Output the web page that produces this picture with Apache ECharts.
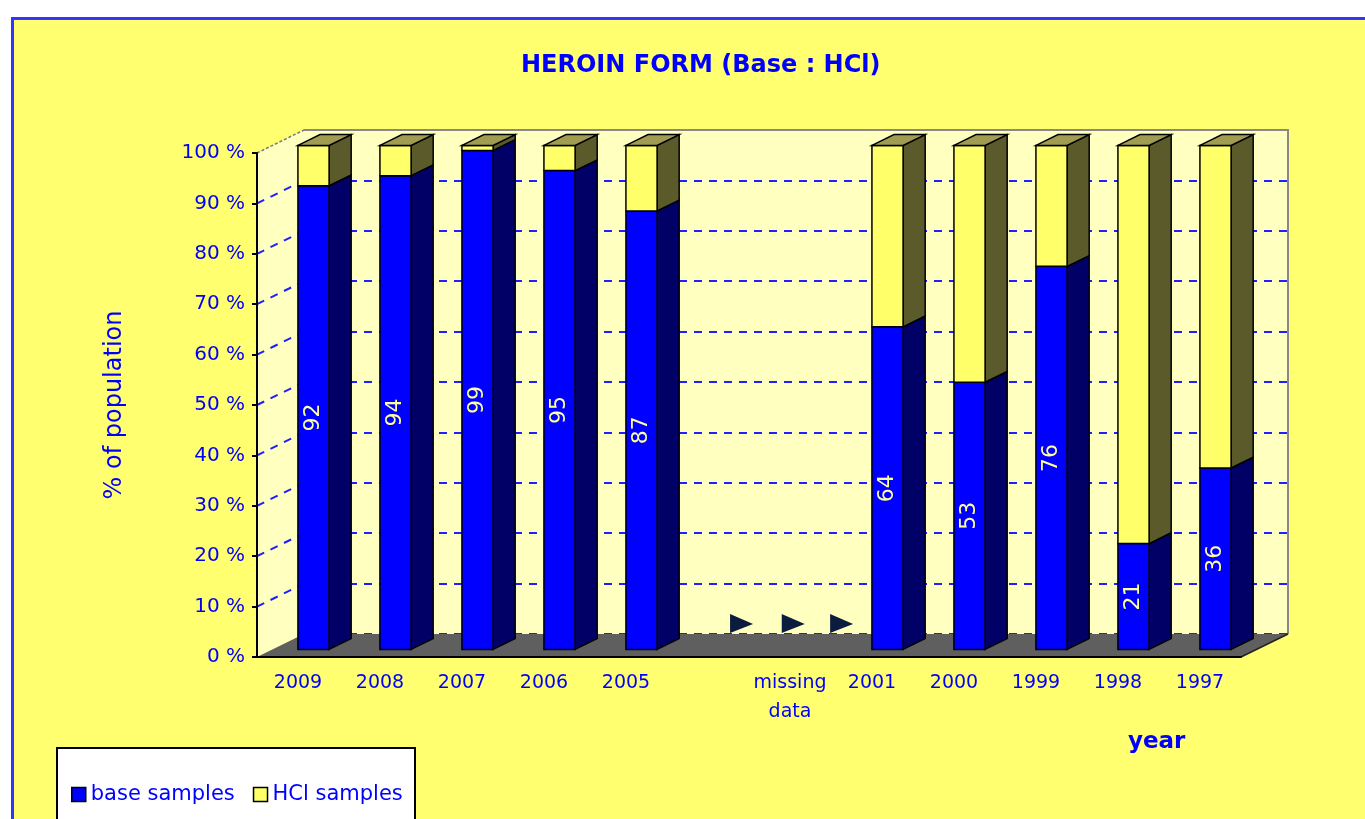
<!DOCTYPE html>
<html>
<head>
<meta charset="utf-8">
<title>Heroin form</title>
<script src="https://cdn.jsdelivr.net/npm/echarts@6/dist/echarts.min.js"></script>
<style>
  body { margin: 0; background: #ffffff; }
  #panel { position: absolute; left: 11px; top: 17px; width: 1360px; height: 810px;
           background: #ffff70; border-left: 3px solid #3434ff; border-top: 3px solid #3434ff; }
  #chart { position: absolute; left: 0; top: 0; width: 1365px; height: 819px; }
</style>
</head>
<body>
<div id="panel"></div>
<div id="chart"></div>
<script>
// chart data
var categories = ["2009", "2008", "2007", "2006", "2005", "", "missing\ndata", "2001", "2000", "1999", "1998", "1997"];
var baseSamples = [92, 94, 99, 95, 87, null, null, 64, 53, 76, 21, 36];
var hclSamples = [8, 6, 1, 5, 13, null, null, 36, 47, 24, 79, 64];
var yTicks = [0, 10, 20, 30, 40, 50, 60, 70, 80, 90, 100];
// "missing data" arrows, in category units along the floor
var arrowPos = [5.33, 5.96, 6.55];

// pseudo 3D depth
var DX = 47, DY = -23;
var D0 = 0.33, D1 = 0.8, HALF = 0.19;
var BLUE = "#0000ff";

function proj(api, x, v, d)
{
    var c = api.coord([x, v]);
    return [c[0] + d * DX, c[1] + d * DY];
}

function barItem(api, front, side, withTop, label)
{
    var x = api.value(0), v0 = api.value(1), v1 = api.value(2);
    var xl = x - HALF, xr = x + HALF;
    var line = { stroke: "#000", lineWidth: 1.5 };
    var children = [
        { type: "polygon", shape: { points: [proj(api, xr, v0, D0), proj(api, xr, v0, D1), proj(api, xr, v1, D1), proj(api, xr, v1, D0)] },
          style: Object.assign({ fill: side }, line) },
        { type: "polygon", shape: { points: [proj(api, xl, v0, D0), proj(api, xr, v0, D0), proj(api, xr, v1, D0), proj(api, xl, v1, D0)] },
          style: Object.assign({ fill: front }, line) }
    ];
    if (withTop)
    {
        children.push({ type: "polygon", shape: { points: [proj(api, xl, v1, D0), proj(api, xr, v1, D0), proj(api, xr, v1, D1), proj(api, xl, v1, D1)] },
            style: Object.assign({ fill: "#a09c52" }, line) });
    }
    if (label)
    {
        var c = proj(api, x, (v0 + v1) / 2, D0);
        children.push({ type: "text", x: c[0], y: c[1], rotation: Math.PI / 2,
            style: { text: String(v1 - v0), fill: "#ffff99", font: "22px 'DejaVu Sans'", align: "center", verticalAlign: "middle" } });
    }
    return { type: "group", children: children };
}

var baseData = [], hclData = [];
categories.forEach(function (c, i)
{
    if (baseSamples[i] == null) return;
    baseData.push([i + 0.5, 0, baseSamples[i]]);
    hclData.push([i + 0.5, baseSamples[i], baseSamples[i] + hclSamples[i]]);
});

var chart = echarts.init(document.getElementById("chart"));
chart.setOption({
    backgroundColor: "transparent",
    textStyle: { fontFamily: "DejaVu Sans", color: BLUE },
    title: {
        text: "HEROIN FORM (Base : HCl)",
        left: 516, top: 49,
        textStyle: { color: BLUE, fontSize: 24, fontWeight: "bold", fontFamily: "DejaVu Sans" }
    },
    legend: {
        left: 66, top: 779, z: 10,
        icon: "rect", itemWidth: 14, itemHeight: 14, itemGap: 18,
        itemStyle: { borderColor: "#000", borderWidth: 1.5 },
        textStyle: { color: BLUE, fontSize: 21 },
        data: ["base samples", "HCl samples"]
    },
    graphic: [
        { type: "rect", z: 1, shape: { x: 57, y: 748, width: 358, height: 90 },
          style: { fill: "#ffffff", stroke: "#000", lineWidth: 2 } },
        { type: "text", z: 1, x: 1128, y: 731,
          style: { text: "year", fill: BLUE, font: "bold 23px 'DejaVu Sans'" } }
    ],
    grid: [
        { left: 257, top: 153, width: 984, height: 504 },
        { left: 257 + DX, top: 153 + DY, width: 984, height: 504, show: true, backgroundColor: "#ffffc0", borderWidth: 0 }
    ],
    xAxis: [
        {
            type: "category", gridIndex: 0, data: categories, z: 5,
            axisLine: { lineStyle: { color: "#000", width: 2 } },
            axisTick: { length: 6, lineStyle: { color: "#000", width: 2 } },
            axisLabel: { color: BLUE, fontSize: 19, margin: 12, lineHeight: 29, interval: 0 }
        },
        { type: "value", gridIndex: 0, min: 0, max: 12, show: false },
        { type: "value", gridIndex: 1, min: 0, max: 12, show: false }
    ],
    yAxis: [
        {
            type: "value", gridIndex: 0, min: 0, max: 100, interval: 10, z: 5,
            name: "% of population", nameLocation: "middle", nameGap: 130,
            nameTextStyle: { color: BLUE, fontSize: 24 },
            axisLine: { show: true, lineStyle: { color: "#000", width: 2 } },
            axisTick: { show: true, length: 5, lineStyle: { color: "#000", width: 2 } },
            axisLabel: { color: BLUE, fontSize: 20, margin: 12, formatter: "{value} %" },
            splitLine: { show: false }
        },
        {
            type: "value", gridIndex: 1, min: 0, max: 100, interval: 10,
            axisLine: { show: false }, axisTick: { show: false }, axisLabel: { show: false },
            splitLine: { lineStyle: { color: "#2020ff", width: 2, type: [8, 7] } }
        }
    ],
    series: [
        {
            type: "custom", name: "frame", xAxisIndex: 1, yAxisIndex: 0, silent: true,
            data: [[0, 0]],
            renderItem: function (params, api)
            {
                var n = categories.length;
                var kids = [
                    { type: "polygon", shape: { points: [proj(api, 0, 0, 0), proj(api, 0, 100, 0), proj(api, 0, 100, 1), proj(api, 0, 0, 1)] },
                      style: { fill: "#ffffc0" } }
                ];
                yTicks.forEach(function (v)
                {
                    if (v === 0 || v === 100) return;
                    var a = proj(api, 0, v, 0), b = proj(api, 0, v, 1);
                    kids.push({ type: "line", shape: { x1: a[0], y1: a[1], x2: b[0], y2: b[1] },
                        style: { stroke: "#2020ff", lineWidth: 2, lineDash: [8, 7] } });
                });
                var t0 = proj(api, 0, 100, 0), t1 = proj(api, 0, 100, 1);
                kids.push({ type: "line", shape: { x1: t0[0], y1: t0[1], x2: t1[0], y2: t1[1] },
                    style: { stroke: "#777", lineWidth: 1.5, lineDash: [3, 2] } });
                kids.push({ type: "polyline", shape: { points: [proj(api, 0, 100, 1), proj(api, n, 100, 1), proj(api, n, 0, 1)] },
                    style: { stroke: "#888", lineWidth: 2, fill: null } });
                kids.push({ type: "polygon", shape: { points: [proj(api, 0, 0, 0), proj(api, n, 0, 0), proj(api, n, 0, 1), proj(api, 0, 0, 1)] },
                    style: { fill: "#5f5f5f" } });
                var r0 = proj(api, n, 0, 0), r1 = proj(api, n, 0, 1);
                kids.push({ type: "line", shape: { x1: r0[0], y1: r0[1], x2: r1[0], y2: r1[1] },
                    style: { stroke: "#222", lineWidth: 1.5 } });
                return { type: "group", children: kids };
            }
        },
        {
            type: "custom", name: "arrows", xAxisIndex: 1, yAxisIndex: 0, silent: true,
            data: arrowPos.map(function (p) { return [p, 0]; }),
            renderItem: function (params, api)
            {
                var c = proj(api, api.value(0), api.value(1), 1);
                return { type: "polygon",
                    shape: { points: [[c[0] - 11, c[1] - 20], [c[0] + 12, c[1] - 10], [c[0] - 11, c[1] - 1]] },
                    style: { fill: "#0c1c3e" } };
            }
        },
        {
            type: "custom", name: "base samples", xAxisIndex: 1, yAxisIndex: 0,
            itemStyle: { color: "#0000ff" },
            data: baseData,
            renderItem: function (params, api) { return barItem(api, "#0000ff", "#000066", false, true); }
        },
        {
            type: "custom", name: "HCl samples", xAxisIndex: 1, yAxisIndex: 0,
            itemStyle: { color: "#ffff66" },
            data: hclData,
            renderItem: function (params, api) { return barItem(api, "#ffff6a", "#5a5a2a", true, false); }
        }
    ]
});
</script>
</body>
</html>
